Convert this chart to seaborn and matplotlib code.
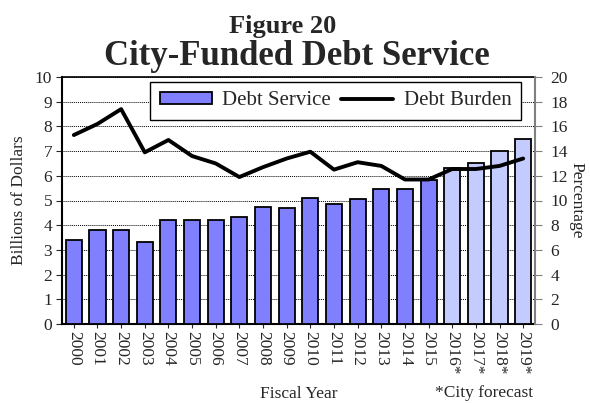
import numpy as np
import pandas as pd
import matplotlib
matplotlib.use("Agg")
import matplotlib.pyplot as plt
import seaborn as sns
from matplotlib.patches import Patch
from matplotlib.lines import Line2D

years = ["2000", "2001", "2002", "2003", "2004", "2005", "2006", "2007", "2008", "2009",
         "2010", "2011", "2012", "2013", "2014", "2015", "2016*", "2017*", "2018*", "2019*"]
debt_service = [3.4, 3.8, 3.8, 3.3, 4.2, 4.2, 4.2, 4.35, 4.75, 4.7,
                5.1, 4.85, 5.05, 5.45, 5.45, 5.85, 6.3, 6.5, 7.0, 7.5]
debt_burden = [15.3, 16.2, 17.4, 13.9, 14.9, 13.6, 13.0, 11.9, 12.7, 13.4,
               13.95, 12.5, 13.1, 12.8, 11.7, 11.7, 12.55, 12.55, 12.8, 13.4]
forecast = [False] * 16 + [True] * 4

sns.set_style("white")
plt.rcParams["font.family"] = ["Liberation Serif", "DejaVu Serif"]

df = pd.DataFrame({"year": years, "service": debt_service, "burden": debt_burden})
actual_color = "#8080FF"
fc_color = "#C4CCFF"
colors = [fc_color if f else actual_color for f in forecast]

W, H = 590, 403
fig = plt.figure(figsize=(5.9, 4.03), dpi=100)
ax = fig.add_axes([62 / W, 1 - 324 / H, (535 - 62) / W, (324 - 77) / H])

sns.barplot(data=df, x="year", y="service", hue="year", palette=colors, legend=False,
            saturation=1, width=0.68, edgecolor="black", linewidth=1.3, ax=ax, zorder=3)
ax.set_ylim(0, 10)
ax.set_xlim(-0.5, len(years) - 0.5)
ax.set_yticks(range(0, 11))
ax.yaxis.grid(True, linestyle=(0, (1, 1)), color="black", linewidth=0.7, zorder=0)
ax.set_axisbelow(True)
ax.tick_params(axis="y", labelsize=12.5, direction="out", length=4, left=True, width=0.8, pad=3)
ax.tick_params(axis="x", labelsize=12.5, direction="out", length=3, bottom=True, pad=2)
for lbl in ax.get_xticklabels():
    lbl.set_rotation(270)
ax.set_xlabel("Fiscal Year", fontsize=12.5, labelpad=8)
ax.set_ylabel("Billions of Dollars", fontsize=12.5, labelpad=6)
for s in ["top", "right"]:
    ax.spines[s].set_visible(False)
ax.spines["left"].set_color("black")
ax.spines["left"].set_linewidth(1.5)
ax.spines["bottom"].set_color("black")
ax.spines["bottom"].set_linewidth(1.5)

ax2 = ax.twinx()
sns.lineplot(x=np.arange(len(years)), y=debt_burden, color="black", linewidth=2.8, ax=ax2, zorder=5)
ax2.set_ylim(0, 20)
ax2.set_yticks(range(0, 21, 2))
ax2.tick_params(axis="y", labelsize=12.5, direction="out", length=5, right=True, width=0.8,
                color="gray", pad=6)
ax2.set_ylabel("Percentage", fontsize=12.5, rotation=270, labelpad=12)
for s in ["top", "left", "bottom"]:
    ax2.spines[s].set_visible(False)
ax2.spines["right"].set_color("gray")
ax2.spines["right"].set_linewidth(1.5)
ax2.set_xlim(-0.5, len(years) - 0.5)

# top border line
ax.plot([-0.5, len(years) - 0.5], [10, 10], color="black", linewidth=1.2, clip_on=False, zorder=6)

handles = [Patch(facecolor=actual_color, edgecolor="black", linewidth=1.3, label="Debt Service"),
           Line2D([0], [0], color="black", linewidth=2.8, label="Debt Burden")]
leg = fig.legend(handles=handles, loc="upper right", ncol=2, fontsize=15, frameon=True,
                 fancybox=False, edgecolor="black", framealpha=1, handlelength=2.5,
                 handleheight=0.5, columnspacing=0.5, handletextpad=0.5, borderpad=0.45,
                 borderaxespad=0, bbox_to_anchor=(521 / W, 1 - 82 / H))
leg.get_frame().set_linewidth(1.0)
leg.set_zorder(10)

fig.text(283 / W, 1 - 33 / H, "Figure 20", ha="center", va="baseline", fontsize=19, fontweight="bold")
fig.text(297 / W, 1 - 65 / H, "City-Funded Debt Service", ha="center", va="baseline",
         fontsize=25, fontweight="bold")
fig.text(484 / W, 1 - 393 / H, "*City forecast", ha="center", va="center", fontsize=12.5)

fig.savefig("out.png", dpi=100)
